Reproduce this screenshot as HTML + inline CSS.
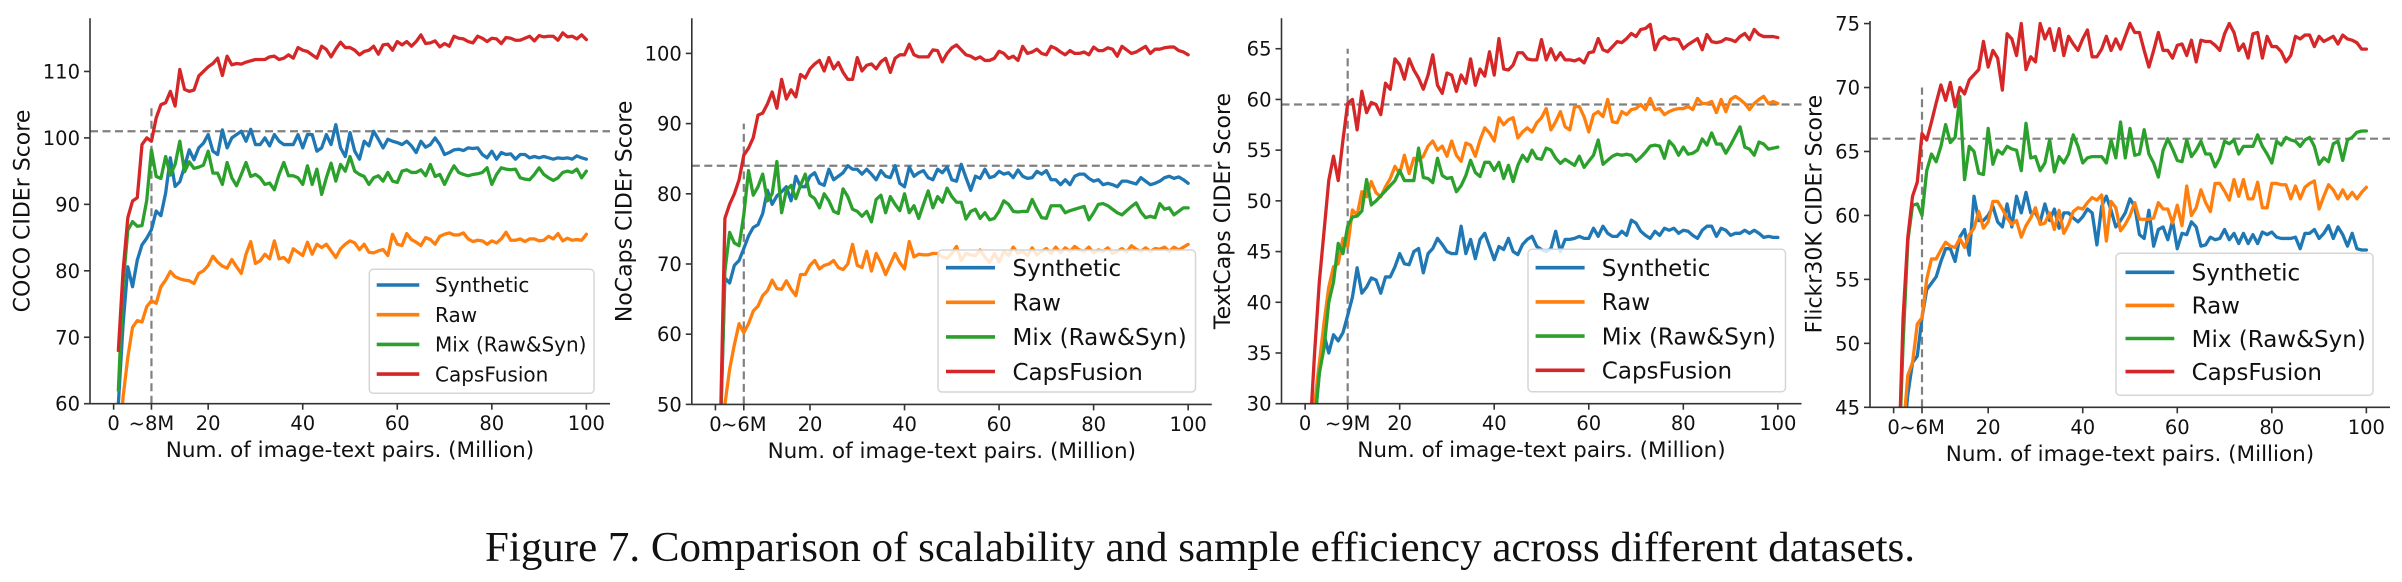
<!DOCTYPE html>
<html>
<head>
<meta charset="utf-8">
<style>
  html,body{margin:0;padding:0;background:#fff;}
  svg{display:block;}
  text{font-family:"DejaVu Sans","Liberation Sans",sans-serif;fill:#111;}
  .cap{font-family:"Liberation Serif","Times New Roman",serif;}
</style>
</head>
<body>
<svg id="fig" width="2402" height="582" viewBox="0 0 2402 582" xmlns="http://www.w3.org/2000/svg">
  <rect x="0" y="0" width="2402" height="582" fill="#fff"/>
  <text class="cap" x="485" y="561" font-size="42" textLength="1430" lengthAdjust="spacingAndGlyphs">Figure 7. Comparison of scalability and sample efficiency across different datasets.</text>
</svg>
<script>
// ---------- data ----------
const seriesNames = ["Synthetic","Raw","Mix (Raw&Syn)","CapsFusion"];
const seriesColors = ["#1f77b4","#ff7f0e","#2ca02c","#d62728"];

// COCO
const cocoSynthetic = [60,72,80.6,77.6,81.6,83.9,84.9,86.2,89,88.3,91.7,97,92.7,93.4,95.7,98.2,96.7,98.5,99.2,100.5,98,97.5,101.2,98.5,100,100.5,101,99.5,101.3,99,99,100,98.8,100.5,99.5,99,99,99,100.5,98.5,100.5,100.5,98,98.5,100.5,99,102,98.5,97.2,100.8,98,96.8,99.5,98.8,101,99.8,98.5,99.8,99.5,99.3,99,99.5,98.8,97.8,99.5,98.6,99,100,99,97.5,97.8,98.2,98.3,98.1,98.5,98.4,98.5,97.5,97,98,96.8,97.8,97.5,97.6,96.8,97.5,97.5,97,97.2,97,97.2,97,96.8,97,96.9,97,96.8,97.3,97,96.8];
const cocoRaw = [52,61,67,71.5,72.5,72.3,74.6,75.5,75.1,77.6,78.6,79.9,79.1,78.8,78.6,78.5,78.1,79.6,80,80.8,82.2,81.3,80.7,80.4,81.7,80.6,79.6,82.5,84.4,81.1,81.5,82.5,81.8,84.5,81.8,82,81.3,83.3,82.8,82.3,84.3,82.5,84,83.5,84,83,82,83.3,84,84.5,84.2,83.2,84,82.8,82.7,83,83.2,82.3,85.5,84,83.8,85.6,84.7,84.3,83.8,85,84.7,84,85.2,85.5,85.7,85.4,85.4,85.7,84.8,84.4,84.6,84.5,84,84.5,84.2,84.8,85.8,84.6,84.6,84.8,84.4,84.8,84.8,84.5,84.6,85.2,84.8,85.6,84.5,84.9,84.6,84.7,84.6,85.5];
const cocoMix = [62,78,86.1,87.4,86.7,86.8,90.6,98.2,94.2,93.9,97.2,94.4,96,99.5,94.9,96.4,95.4,95.6,95.9,98,94.7,94.7,93,96.3,94,92.8,94.5,96.3,94.2,94.5,94,93,93.2,92.2,94.5,96.3,94.3,94.3,94,93,95.8,93,95.3,91.5,94,96.2,93.5,96,95,97.2,95,94.5,94.2,93,94,94.3,93.5,94.8,93.5,93.3,95,95.2,94.8,94.8,95.2,94.3,96,94.2,94.5,93,94.5,95.8,94.8,94.5,94.3,94.5,94.6,94.8,95.5,93,94.5,95.5,95.3,95.2,95.3,94,93.8,93.7,94.5,95.5,94.5,94,93.6,94,94.8,95,94.8,95.3,94,95];
const cocoCapsFusion = [68,80,88,90.5,91,99,100,99.5,103,105,105.3,107,104.8,110.3,107.3,107,107.2,109.3,110,110.7,111.2,112,109.4,112.3,111,111.2,111.1,111.4,111.6,111.8,111.8,111.8,112.2,112.3,111.8,112,112.5,112,113.6,113.2,113,112.5,112,113.8,113.3,112.2,113.4,114.4,113.6,113.6,113.2,112.5,113,113.2,113.8,112.6,114,114.1,113.2,114.5,114,114.5,113.8,114.5,115.5,114.2,114.3,114.6,113.7,114.2,113.8,115.3,115,114.9,114.5,114.3,115.3,115,114.5,115,114.9,114.2,115.1,115,114.7,114.7,115,115.3,114.6,115.4,115.2,115.3,115.3,114.7,115.8,115.2,115.3,114.9,115.5,114.8];
const cocoYTicks = [60,70,80,90,100,110];
const cocoXTickValues = [0,8,20,40,60,80,100];
const cocoXTickLabels = ["0","~8M","20","40","60","80","100"];
const cocoRefScore = 101, cocoRefPairs = 8, cocoRefTop = 105;

// NoCaps
const nocapsSynthetic = [45,68,67.3,69.8,70.5,72.2,74,75.2,75.6,77.2,80.5,78.5,79.7,80.3,81,79,82.5,81,81,82.5,83,81.5,81.2,83.5,82,82.5,83,84,83.5,83.5,82.8,83.5,82.8,82,83.3,82.5,82.3,84,81.5,81,83.8,82.5,83,83.3,82.3,82,83.5,83,83.8,82,81.8,84.2,82.3,80.5,82.5,82.2,83.5,82.3,82.5,83.2,82.8,83,82.3,83.4,82.5,82.2,82.3,83.2,82.8,83.3,82,82,81.3,82,81.3,82.5,82.8,82.8,82.2,81.8,82,81.3,81.5,81.3,81,81.8,81.8,81.6,81.4,82.3,81.8,81.3,81.5,81.8,82.3,82.5,82.2,82.4,82,81.5];
const nocapsRaw = [45,50,55,58.5,61.5,60.2,61.5,63.3,64,65.5,66.2,67.7,66.5,66.4,67.6,66.4,65.5,68.5,68.5,69.8,70.5,69.3,69.8,70,70.5,69.5,69.2,70,72.8,69.8,69.5,71.8,69,71.5,70.2,68.5,70,71.5,70.2,69.3,73.2,71,71.4,71.3,71.3,71.5,71.5,71,70.8,71.5,72.5,70.5,71.5,71.3,71.2,72,71,70.2,71.5,70.3,71.8,71.2,72.4,71.5,71.8,71.2,72.3,71.3,71.8,72.2,71.5,72.4,71.6,72.3,71.8,72.5,72,71.8,72.4,71.6,72,71.8,72.3,71.5,71.8,72.2,71.7,72.6,72.1,71.8,72.3,71.8,72.2,72.1,72.4,71.8,72.4,72,72.4,72.8];
const nocapsMix = [45,69,74.5,73,72.6,77,83.3,79.8,81,82.8,79,80,84.6,77.3,80.5,81.2,79.3,81.2,82.8,79.8,79.3,78,80,79,77.5,77.2,80.7,79.6,77.8,77.5,76.8,77.5,76,79.2,79.8,77.3,79.6,78.5,77.6,80,77.3,78.3,76.5,78.5,80.4,78,79.6,78.8,80.8,79.6,78.8,78.8,76.4,77.5,77.8,76.5,77.3,76.3,76.5,77.5,79,78.5,77.5,77.4,77.5,77.5,79.2,77.8,76.6,76.5,78.3,78.3,78.3,77.3,77.6,77.8,78,78.2,76.3,77.3,78.5,78.6,78.3,77.8,77.3,77,77.6,78.2,78.7,77.4,76.6,76.8,76.6,78.6,77.8,78,77,77.5,78,78];
const nocapsCapsFusion = [45,76.5,78.5,80,82,85.5,86.5,88,91.2,91.5,92.8,94.5,92.2,96.3,93.5,94.8,93.8,97,96.5,97.8,98.5,99,97.5,99.4,97.8,98.7,97.3,96.3,96.3,99.4,97.5,98.3,98.5,97.8,98.8,99.3,97.3,99.3,99.8,99.8,101.3,99.8,99.5,99.5,99.5,100.5,100.4,98.8,100,100.8,101.2,100.5,99.8,99.6,99.2,99.5,99,99,99.3,100.3,100,99.3,99.6,99,101,100,100.2,100.6,100,99.8,101,100.7,100.2,99.8,100.4,100,100,100.2,99.8,100.9,100.4,100.4,100.8,100.6,99.6,101,100.5,100,100.2,100.6,101,100,100.6,100.6,100.8,100.9,100.9,100.4,100.2,99.8];
const nocapsYTicks = [50,60,70,80,90,100];
const nocapsXTickValues = [0,6,20,40,60,80,100];
const nocapsXTickLabels = ["0","~6M","20","40","60","80","100"];
const nocapsRefScore = 84, nocapsRefPairs = 6, nocapsRefTop = 90;

// TextCaps
const textcapsSynthetic = [22,28,33,36.8,35,36.8,36.2,37,38.7,40.5,43.4,40.9,41.5,42.4,42.2,40.9,42.5,42.5,43.5,44.8,43.8,43.7,45,45.3,42.9,44.8,45.3,46.3,45.7,45,44.8,44.8,47.5,44.8,46.2,44.3,46.2,46.8,45.5,44.2,45.5,45.2,46.3,45,44.7,45.7,46.2,46.5,45.5,45.2,45,45.3,47,45,46.2,46.2,46.3,46.5,46.3,46.3,47.3,46.5,47.5,46.8,46.5,46.5,47,46.6,48.1,47.8,47,46.6,46.3,47,46.6,47.3,47.1,47.3,46.8,47.1,47,46.6,46.3,47.1,47.5,47.5,46.5,47.3,47.1,46.6,46.8,46.8,47.1,46.8,47.1,46.8,46.4,46.5,46.4,46.4];
const textcapsRaw = [22,30,34,38,41.5,43.5,43.8,46.3,45.5,49.1,48.6,50.9,50.4,51.9,50.8,50.4,51.4,52.2,53.4,52.7,54.5,52.7,54.2,54,54.4,55.4,55.9,55,55.4,54.4,55.9,54.5,53.9,55.7,55.5,54.4,56,57.2,56.7,55.9,58.2,57.5,58,58.2,56.2,56.8,57.2,56.8,57.7,58.2,59.1,57,57.8,58.8,57.3,57,59.3,59.3,58.3,56.8,58.5,58.8,58.3,60,57.8,57.7,58.8,58.5,59,59.1,59.5,59,60.1,59,59.1,58.5,58.8,59,59.1,59.1,59.3,59,60.1,59.6,59.6,59.8,58.7,60,58.8,60,60.3,60,59.6,59,59.6,60,60.3,59.6,59.8,59.6];
const textcapsMix = [22,28,33,35.5,40,42,45.8,44.8,47.5,48.4,48.5,49,52.1,49.6,50,50.5,51,51.5,52,53,52,52,52,55.2,52.3,52.2,51.8,54.2,52.5,52.2,52.3,50.9,51.5,52.5,54,52.8,52.4,53.8,53.8,53,53.8,52.2,53.5,51.9,53.5,54.5,53.9,55,54.2,54.1,55.2,55,54.2,53.7,54.1,53.8,53.5,54.4,53.3,53.9,54.5,56,53.6,54,54.4,54.6,54.5,54.6,54.5,53.9,54.3,54.8,55.4,55.5,55.4,54.2,55.9,55.4,54.5,55.3,54.6,54.7,55,56.1,55.5,56.7,55.6,55.6,54.7,55.5,56.4,57.3,55.3,55.1,54.5,55.8,55.6,55.1,55.2,55.3];
const textcapsCapsFusion = [27,35,42,47,52,54.4,52,56,59.6,60,57,60.8,58.7,59.7,59.5,58.5,61.6,61,64,63.4,62,64,62.9,62.1,61,62.4,64.4,61.4,60.6,62.6,62.4,60.8,62.4,61.6,64,61.4,63,62.3,64.7,62.4,66,63,62.9,63.4,64.6,64.6,64,63.9,63.9,65.9,63.9,65,63.9,64.6,63.9,63.9,63.8,64,63.6,64.6,64.7,66,64.9,64.7,65.2,65.7,65.6,66,66.5,66.2,66.9,67,67.4,64.9,65.9,66.2,65.9,66,65.9,65,65.4,65.7,66,64.9,66.4,65.7,65.6,65.7,66,65.9,65.7,66.2,66.5,65.9,66.9,66.4,66.2,66.2,66.2,66.1];
const textcapsYTicks = [30,35,40,45,50,55,60,65];
const textcapsXTickValues = [0,9,20,40,60,80,100];
const textcapsXTickLabels = ["0","~9M","20","40","60","80","100"];
const textcapsRefScore = 59.5, textcapsRefPairs = 9, textcapsRefTop = 65;

// Flickr30K
const flickrSynthetic = [40,42,46,48.5,49,52,54.2,54.7,55.2,56.4,57.4,57.4,56.4,58.3,58.9,56.9,61.5,59.6,59.6,60,60.7,59.5,59.1,60.9,59.1,61.5,60.2,61.8,60.2,60.2,59.5,60.9,59.6,60.5,59,60.2,60.2,59.8,59.5,59.9,60.5,60.2,57.7,60.7,61.5,60.4,59.1,59.6,60.2,61.3,60.7,58.5,58.2,60.4,57.6,58.9,59.1,58.1,59.6,57.4,58.6,58.5,59.5,59.1,57.6,57.7,58.3,58.1,58.2,58.9,58.1,58.6,57.8,58.6,57.8,58.5,57.8,58.7,58.5,58.7,58.3,58.2,58.2,58.2,58.3,57.4,58.6,58.6,58.9,58.2,58.6,59.2,58.2,59.1,58.5,57.6,58.6,57.4,57.3,57.3];
const flickrRaw = [40,43,47.5,48.5,51.5,52,55,56.6,56.6,57.3,57.9,57.6,57.5,58.2,57.5,58.5,59,60.3,59,59.5,61.1,61.1,60.5,59.8,59.3,59.6,58.3,59.2,59.8,60.6,59.3,59.4,60.2,58.9,60.4,58.6,59.3,60.3,60.6,60.5,61,61.4,61.2,61.6,58,61.1,60.6,58.8,59.3,60,61,59.7,59.7,59.7,59.8,61,60.5,60.5,59.4,60.8,59.2,62.3,60,60.6,62,61,60.3,62.5,62.5,61.9,61.2,62.8,61.5,62.8,61.3,61.3,62.6,60.6,60.6,62.5,62.5,62.4,62.4,61.3,62.3,61.3,62.2,62.5,62.7,60.5,61.5,62.4,62,61.3,62,61.3,61.8,61.3,61.8,62.2];
const flickrMix = [40,50,58,60.8,60.9,60,63.5,64.8,64.2,65.4,67.1,65.7,66.1,69.3,62.8,65.4,65,63.3,63.2,66.8,64,65.1,64.8,65.4,65.2,65.1,63.5,67.2,64.5,64.6,63.5,64.1,65.9,63.4,64.6,64.1,64.8,66.3,65.4,64.1,64.5,64.6,64.6,64.6,64.1,65.9,64.5,67.3,64.5,66.8,64.7,64.8,66.7,64.8,64.1,63,65.1,66,65.2,64.3,64.2,65.9,64.6,65.1,65.8,64.8,64.8,63.8,64.5,65.8,65.6,65.9,64.8,65.4,65.4,65.4,66.3,65.4,64.8,64.1,65.8,65.5,66.1,65.9,65.8,65.4,65.9,66.1,65.4,64,64.5,64.2,65.6,65.8,64.3,65.9,66.1,66.5,66.6,66.6];
const flickrCapsFusion = [40,52,58.3,61.5,62.6,66.4,65.9,67.3,68.8,70.2,69,70.4,68.5,70,69.5,70.6,71,71.4,73.6,71.6,72.9,72.3,69.8,74.2,73.8,72.5,75,71.4,72.4,72,75,73.8,74.6,72.9,74.6,72.5,74,73.4,72.9,73.8,74.5,72.4,72.4,73,74,72.9,73.8,73,74,75,74.3,74.3,72.9,71.6,72.9,74.3,72.9,72.9,72.3,73.3,73.4,72.5,73.7,72,73.7,73.6,73.6,73.3,72.9,74.2,75,74.3,72.9,73.4,72.3,74.2,74.3,72.3,74,73.2,73.2,72.8,72,72.5,74,73.8,74.1,74.1,73.2,74,73.6,73.8,74,73.4,74.1,73.8,73.7,73.5,73,73];
const flickrYTicks = [45,50,55,60,65,70,75];
const flickrXTickValues = [0,6,20,40,60,80,100];
const flickrXTickLabels = ["0","~6M","20","40","60","80","100"];
const flickrRefScore = 66, flickrRefPairs = 6, flickrRefTop = 70;

// ---------- layout (positions/styles) ----------
const panels = [
  {key:"coco", left:90, top:18.3, bottom:403.7, ymin:60, ymax:118, ylabel:"COCO CIDEr Score", ylabelOff:67,
   series:[cocoSynthetic,cocoRaw,cocoMix,cocoCapsFusion], yticks:cocoYTicks, xtv:cocoXTickValues, xtl:cocoXTickLabels,
   ref:[cocoRefScore,cocoRefPairs,cocoRefTop],
   lg:{x:369.3,y:269.3,w:224.7,h:124,y0:285,dy:29.7,h1:376.7,h2:419.3,tx:435,fs:20}},
  {key:"nocaps", left:691.8, top:18.3, bottom:404.4, ymin:50, ymax:105, ylabel:"NoCaps CIDEr Score", ylabelOff:67,
   series:[nocapsSynthetic,nocapsRaw,nocapsMix,nocapsCapsFusion], yticks:nocapsYTicks, xtv:nocapsXTickValues, xtl:nocapsXTickLabels,
   ref:[nocapsRefScore,nocapsRefPairs,nocapsRefTop],
   lg:{x:938,y:250,w:257.5,h:142,y0:267.7,dy:34.6,h1:946,h2:995,tx:1012.5,fs:23}},
  {key:"textcaps", left:1281.5, top:18.3, bottom:403.7, ymin:30, ymax:68, ylabel:"TextCaps CIDEr Score", ylabelOff:58,
   series:[textcapsSynthetic,textcapsRaw,textcapsMix,textcapsCapsFusion], yticks:textcapsYTicks, xtv:textcapsXTickValues, xtl:textcapsXTickLabels,
   ref:[textcapsRefScore,textcapsRefPairs,textcapsRefTop],
   lg:{x:1528,y:249.3,w:257.5,h:142.4,y0:267.7,dy:34.2,h1:1535.6,h2:1584.6,tx:1601.8,fs:23}},
  {key:"flickr", left:1870, top:21, bottom:407.3, ymin:45, ymax:75.2, ylabel:"Flickr30K CIDEr Score", ylabelOff:55,
   series:[flickrSynthetic,flickrRaw,flickrMix,flickrCapsFusion], yticks:flickrYTicks, xtv:flickrXTickValues, xtl:flickrXTickLabels,
   ref:[flickrRefScore,flickrRefPairs,flickrRefTop],
   lg:{x:2116,y:253.3,w:257,h:142,y0:272.3,dy:33.1,h1:2125.5,h2:2174.3,tx:2191.6,fs:23}}
];
const XMIN=-5, XMAX=105, AXW=520;
const NS="http://www.w3.org/2000/svg";
const svg=document.getElementById("fig");
function mk(tag, attrs, parent){
  const e=document.createElementNS(NS,tag);
  for(const k in attrs) e.setAttribute(k, attrs[k]);
  (parent||svg).appendChild(e);
  return e;
}
const defs=mk("defs",{});

panels.forEach((p,pi)=>{
  const xs=v=>p.left+(v-XMIN)/(XMAX-XMIN)*AXW;
  const ys=v=>p.bottom-(v-p.ymin)/(p.ymax-p.ymin)*(p.bottom-p.top);
  const g=mk("g",{});
  
  
  const cp=mk("clipPath",{id:"clip"+pi},defs);
  mk("rect",{x:p.left,y:p.top,width:AXW,height:p.bottom-p.top},cp);

  const hl=mk("line",{x1:p.left,x2:p.left+AXW,y1:ys(p.ref[0]),y2:ys(p.ref[0]),stroke:"#808080","stroke-width":2.2,"stroke-dasharray":"8,4.5"},g);
  
  
  const vl=mk("line",{x1:xs(p.ref[1]),x2:xs(p.ref[1]),y1:p.bottom,y2:ys(p.ref[2]),stroke:"#808080","stroke-width":2.2,"stroke-dasharray":"8,4.5"},g);
  
  

  const sg=mk("g",{"clip-path":"url(#clip"+pi+")"},g);
  p.series.forEach((arr,si)=>{
    const d=arr.map((v,i)=>(i?"L":"M")+xs(i+1).toFixed(2)+","+ys(v).toFixed(2)).join(" ");
    const path=mk("path",{d:d,fill:"none",stroke:seriesColors[si],"stroke-width":3.3,"stroke-linejoin":"round","stroke-linecap":"round"},sg);
    
    
  });

  const sp1=mk("line",{x1:p.left,x2:p.left,y1:p.top,y2:p.bottom,stroke:"#333","stroke-width":1.6},g);
  
  
  const sp2=mk("line",{x1:p.left,x2:p.left+AXW,y1:p.bottom,y2:p.bottom,stroke:"#333","stroke-width":1.6},g);
  
  

  p.yticks.forEach(v=>{
    const y=ys(v);
    mk("line",{x1:p.left-6,x2:p.left,y1:y,y2:y,stroke:"#333","stroke-width":1.6},g);
    const t=mk("text",{x:p.left-10,y:y+7,"text-anchor":"end","font-size":19.5},g);
    t.textContent=String(v);
    
    
  });
  p.xtv.forEach((v,i)=>{
    const x=xs(v);
    mk("line",{x1:x,x2:x,y1:p.bottom,y2:p.bottom+6,stroke:"#333","stroke-width":1.6},g);
    const t=mk("text",{x:x,y:p.bottom+26.5,"text-anchor":"middle","font-size":19.5},g);
    t.textContent=p.xtl[i];
    
    
  });
  const xt=mk("text",{x:p.left+AXW/2,y:p.bottom+53.5,"text-anchor":"middle","font-size":21.5},g);
  xt.textContent="Num. of image-text pairs. (Million)";
  
  
  const cy=(p.top+p.bottom)/2, cx=p.left-p.ylabelOff;
  const yt=mk("text",{x:cx,y:cy,"text-anchor":"middle","dominant-baseline":"central","font-size":22,transform:"rotate(-90 "+cx+" "+cy+")"},g);
  yt.textContent=p.ylabel;
  
  

  const L=p.lg;
  const lg=mk("g",{},g);
  
  
  mk("rect",{x:L.x,y:L.y,width:L.w,height:L.h,rx:4,fill:"rgba(255,255,255,0.82)",stroke:"#d6d6d6","stroke-width":1.5},lg);
  seriesNames.forEach((nm,si)=>{
    const y=L.y0+si*L.dy;
    const e=mk("g",{},lg);
    
    
    mk("line",{x1:L.h1,x2:L.h2,y1:y,y2:y,stroke:seriesColors[si],"stroke-width":3.6},e);
    const t=mk("text",{x:L.tx,y:y+L.fs*0.36,"font-size":L.fs},e);
    t.textContent=nm;
  });
});
</script>
</body>
</html>
